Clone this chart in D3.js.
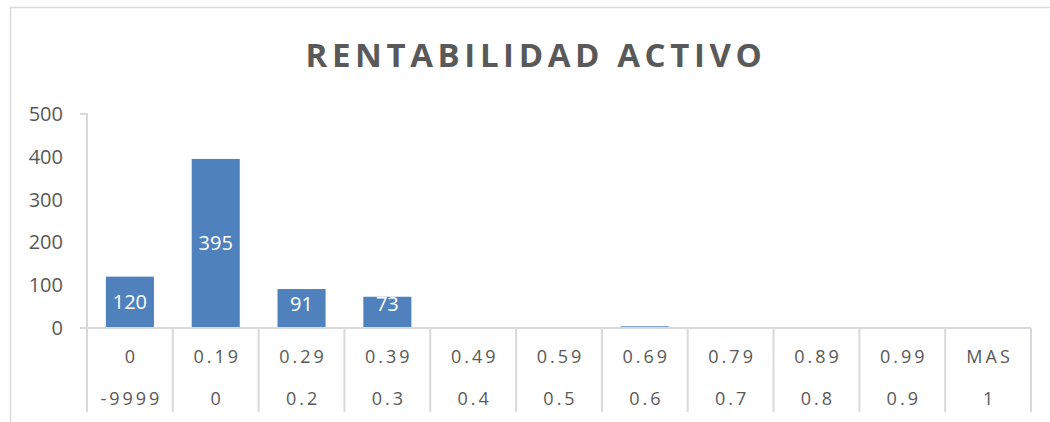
<!DOCTYPE html>
<html>
<head>
<meta charset="utf-8">
<script src="https://cdn.jsdelivr.net/npm/d3@7"></script>
<style>
  html, body { margin: 0; padding: 0; background: #fff; }
  svg { display: block; font-family: "Open Sans", "Noto Sans", sans-serif; }
</style>
</head>
<body>
<svg id="chart" width="1050" height="422"></svg>
<script>
// Histogram of asset profitability (rentabilidad del activo)
const upperBounds = ["0", "0.19", "0.29", "0.39", "0.49", "0.59", "0.69", "0.79", "0.89", "0.99", "MAS"];
const lowerBounds = ["-9999", "0", "0.2", "0.3", "0.4", "0.5", "0.6", "0.7", "0.8", "0.9", "1"];
const counts = [120, 395, 91, 73, 0, 1, 4, 1, 1, 0, 0];
const yTicks = [0, 100, 200, 300, 400, 500];
const title = "RENTABILIDAD ACTIVO";

const svg = d3.select("#chart");
const plot = { left: 87, right: 1031, top: 114, bottom: 328 };
const textColor = "#595959";
const gridColor = "#d9d9d9";
const barColor = "#4f81bd";

// chart area frame
svg.append("rect")
  .attr("x", 10.5).attr("y", 7.5)
  .attr("width", 1050).attr("height", 440)
  .attr("fill", "#fff").attr("stroke", gridColor).attr("stroke-width", 1.5);

svg.append("text")
  .attr("x", 536).attr("y", 67)
  .attr("text-anchor", "middle")
  .attr("font-size", 33).attr("font-weight", "bold")
  .attr("letter-spacing", 4.6)
  .attr("fill", textColor)
  .text(title);

const idx = d3.range(upperBounds.length);
const x = d3.scaleBand().domain(idx).range([plot.left, plot.right]).paddingInner(0.44).paddingOuter(0.22);
const xBin = d3.scaleBand().domain(idx).range([plot.left, plot.right]);
const y = d3.scaleLinear().domain([0, 500]).range([plot.bottom, plot.top]);

// y axis
const yAxis = d3.axisLeft(y).tickValues(yTicks).tickSize(0).tickPadding(24);
const gy = svg.append("g").attr("transform", `translate(${plot.left},0)`).call(yAxis);
gy.select(".domain").remove();
gy.selectAll("text").attr("font-size", 20).attr("fill", textColor).attr("font-family", "Open Sans, sans-serif");

svg.append("path")
  .attr("d", `M${plot.left - 7},${y(500)}H${plot.left}V${plot.bottom}`)
  .attr("fill", "none").attr("stroke", gridColor).attr("stroke-width", 2);

// bars
svg.append("g").selectAll("rect").data(idx).join("rect")
  .attr("x", i => x(i))
  .attr("width", x.bandwidth())
  .attr("y", i => y(counts[i]))
  .attr("height", i => plot.bottom - y(counts[i]))
  .attr("fill", barColor);

// value labels
svg.append("g").selectAll("text").data(idx.filter(i => counts[i] >= 10)).join("text")
  .attr("x", i => x(i) + x.bandwidth() / 2)
  .attr("y", i => Math.min((y(counts[i]) + plot.bottom) / 2, plot.bottom - 24))
  .attr("dy", "0.35em")
  .attr("text-anchor", "middle")
  .attr("font-size", 20)
  .attr("fill", "#fff")
  .text(i => counts[i]);

// category axis (two levels)
svg.append("line")
  .attr("x1", plot.left - 7).attr("x2", plot.right)
  .attr("y1", plot.bottom).attr("y2", plot.bottom)
  .attr("stroke", gridColor).attr("stroke-width", 2);

const seps = idx.map(i => xBin(i)).concat([plot.right]);
svg.append("g").selectAll("line").data(seps).join("line")
  .attr("x1", d => d).attr("x2", d => d)
  .attr("y1", plot.bottom).attr("y2", 412)
  .attr("stroke", gridColor).attr("stroke-width", 2);

svg.append("g").selectAll("text").data(idx).join("text")
  .attr("x", i => xBin(i) + xBin.bandwidth() / 2 + 1.5)
  .attr("y", 363)
  .attr("text-anchor", "middle")
  .attr("font-size", 18)
  .attr("letter-spacing", 3)
  .attr("fill", textColor)
  .text(i => upperBounds[i]);

svg.append("g").selectAll("text").data(idx).join("text")
  .attr("x", i => xBin(i) + xBin.bandwidth() / 2 + 1.5)
  .attr("y", 405)
  .attr("text-anchor", "middle")
  .attr("font-size", 18)
  .attr("letter-spacing", 3)
  .attr("fill", textColor)
  .text(i => lowerBounds[i]);
</script>
</body>
</html>
